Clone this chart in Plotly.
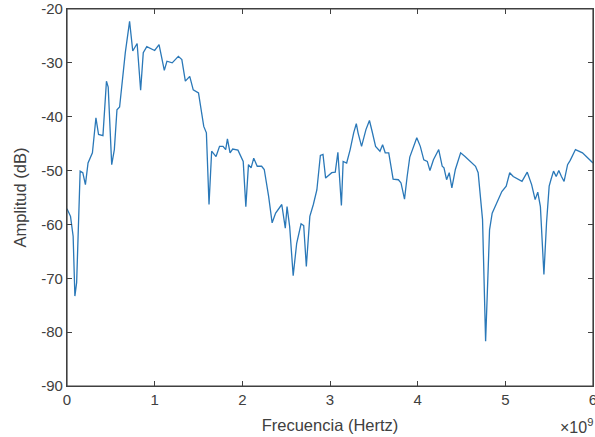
import plotly.graph_objects as go

freq_ghz = [0.00, 0.04, 0.07, 0.09, 0.11, 0.15, 0.18, 0.21, 0.24, 0.29, 0.33, 0.36, 0.41, 0.45, 0.47,
            0.51, 0.54, 0.57, 0.60, 0.665, 0.714, 0.75, 0.80, 0.84, 0.87, 0.91, 1.00, 1.05, 1.11, 1.14,
            1.20, 1.27, 1.31, 1.35, 1.40, 1.44, 1.50, 1.56, 1.59, 1.62, 1.65, 1.70, 1.74, 1.78, 1.81,
            1.83, 1.86, 1.89, 1.95, 2.01, 2.04, 2.07, 2.10, 2.13, 2.17, 2.22, 2.25, 2.30, 2.34, 2.38,
            2.45, 2.49, 2.51, 2.54, 2.58, 2.62, 2.67, 2.70, 2.73, 2.77, 2.81, 2.85, 2.89, 2.92, 2.95,
            3.02, 3.06, 3.09, 3.13, 3.15, 3.19, 3.23, 3.27, 3.30, 3.32, 3.36, 3.41, 3.45, 3.48, 3.52,
            3.57, 3.60, 3.63, 3.67, 3.72, 3.78, 3.81, 3.85, 3.88, 3.91, 3.99, 4.03, 4.07, 4.11, 4.14,
            4.18, 4.24, 4.28, 4.30, 4.33, 4.36, 4.39, 4.43, 4.45, 4.49, 4.54, 4.60, 4.66, 4.69, 4.71,
            4.74, 4.775, 4.80, 4.82, 4.85, 4.91, 4.96, 5.01, 5.05, 5.09, 5.19, 5.25, 5.30, 5.34, 5.37,
            5.40, 5.44, 5.47, 5.50, 5.52, 5.55, 5.58, 5.61, 5.64, 5.67, 5.71, 5.74, 5.80, 5.88, 6.00]

amplitude_db = [-57.1, -58.5, -62.2, -73.3, -70.8, -50.1, -50.4, -52.6, -48.6, -46.7, -40.2, -43.3, -43.5, -33.4, -34.5,
                -48.9, -46.1, -38.7, -38.2, -28.1, -22.3, -27.8, -26.4, -35.1, -28.1, -27.0, -27.7, -26.6, -31.4, -29.7,
                -30.0, -28.8, -29.4, -33.4, -32.5, -35.0, -35.6, -41.8, -43.0, -56.3, -46.4, -47.4, -45.5, -45.5, -46.1,
                -44.1, -46.7, -46.0, -46.2, -48.3, -56.7, -48.9, -49.5, -47.7, -49.2, -49.2, -49.8, -54.8, -59.7, -57.9,
                -56.3, -60.7, -56.7, -60.4, -69.5, -63.5, -59.9, -60.2, -67.8, -58.5, -56.3, -53.6, -47.2, -47.0, -51.4,
                -50.4, -50.3, -46.6, -56.5, -48.3, -48.6, -46.1, -43.0, -41.3, -43.0, -45.5, -42.4, -40.7, -42.7, -45.5,
                -46.4, -45.2, -46.7, -46.7, -51.6, -51.7, -52.3, -55.3, -51.1, -47.5, -43.9, -45.5, -48.0, -48.3, -50.0,
                -48.0, -46.1, -49.2, -49.5, -51.7, -50.4, -53.2, -49.8, -48.6, -46.7, -47.4, -48.3, -49.2, -50.4, -53.6,
                -59.1, -81.7, -68.4, -61.0, -57.9, -55.7, -53.9, -52.9, -50.4, -51.1, -52.0, -50.3, -52.6, -55.4, -54.0,
                -56.7, -69.3, -59.7, -52.9, -51.7, -50.1, -51.1, -50.0, -51.1, -52.0, -48.9, -48.1, -46.1, -46.7, -48.6]

x_tick_vals = [0, 1, 2, 3, 4, 5, 6]
x_tick_text = ["0", "1", "2", "3", "4", "5", "6"]
y_tick_vals = [-90, -80, -70, -60, -50, -40, -30, -20]
y_tick_text = ["-90", "-80", "-70", "-60", "-50", "-40", "-30", "-20"]

freq_hz = [f * 1e9 for f in freq_ghz]

axis_color = "#404040"
font_family = "Liberation Sans, Arial, sans-serif"

fig = go.Figure()
fig.add_trace(go.Scatter(
    x=freq_hz, y=amplitude_db, mode="lines",
    line=dict(color="#2a78b8", width=1.3),
    showlegend=False,
))

fig.update_layout(
    width=595, height=437,
    margin=dict(l=67, r=2, t=9, b=51),
    paper_bgcolor="white", plot_bgcolor="white",
    font=dict(family=font_family, color=axis_color, size=15),
)
fig.update_xaxes(
    range=[0, 6e9], automargin=False,
    tickvals=[v * 1e9 for v in x_tick_vals], ticktext=x_tick_text,
    showgrid=False, zeroline=False,
    showline=True, linecolor=axis_color, linewidth=1.2, mirror="ticks",
    ticks="inside", ticklen=5, tickcolor=axis_color, tickwidth=1,
    tickfont=dict(size=15, color=axis_color),
    ticklabeloverflow="allow",
    title=dict(text="Frecuencia (Hertz)", font=dict(size=16.5, color=axis_color), standoff=12),
)
fig.update_yaxes(
    range=[-90, -20], automargin=False,
    tickvals=y_tick_vals, ticktext=y_tick_text,
    showgrid=False, zeroline=False,
    showline=True, linecolor=axis_color, linewidth=1.2, mirror="ticks",
    ticks="inside", ticklen=5, tickcolor=axis_color, tickwidth=1,
    tickfont=dict(size=15, color=axis_color),
    ticklabeloverflow="allow",
    title=dict(text="Amplitud (dB)", font=dict(size=16.5, color=axis_color), standoff=10),
)
fig.add_shape(
    type="rect", xref="paper", yref="paper", x0=0, y0=0, x1=1, y1=1,
    line=dict(color=axis_color, width=1.2), fillcolor="rgba(0,0,0,0)", layer="above",
)
fig.add_annotation(
    text="×10<sup>9</sup>", xref="paper", yref="paper", x=1, y=0,
    xanchor="right", yanchor="middle", yshift=-40, xshift=2, showarrow=False,
    font=dict(size=16, color=axis_color, family=font_family),
)

fig.write_html("out.html")
